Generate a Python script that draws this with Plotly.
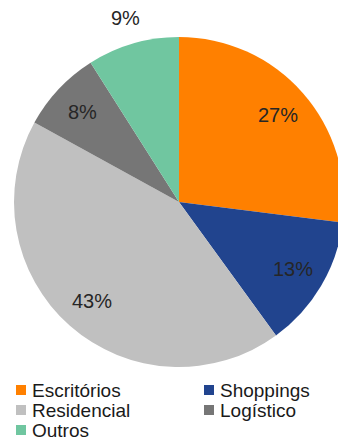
import math
import plotly.graph_objects as go

# Portfolio breakdown by segment (%)
segments = ["Escritórios", "Shoppings", "Residencial", "Logístico", "Outros"]
shares = [27, 13, 43, 8, 9]
colors = ["#FF8000", "#21448E", "#C0C0C0", "#767676", "#70C6A0"]
outside_label = [False, False, False, False, True]

W, H = 346, 442
FONT = "Liberation Sans, Arial, sans-serif"
TEXT = "#262626"

# pie geometry (pixels from top-left)
CX, CY, R = 179, 202, 165

fig = go.Figure(
    go.Pie(
        labels=segments,
        values=shares,
        sort=False,
        direction="clockwise",
        rotation=0,
        marker=dict(colors=colors, line=dict(width=0)),
        textinfo="none",
        hoverinfo="label+percent",
        showlegend=False,
        domain=dict(x=[(CX - R) / W, (CX + R) / W], y=[(H - CY - R) / H, (H - CY + R) / H]),
    )
)

# percentage labels placed along each slice's bisector
total = sum(shares)
start = 0.0
annotations = []
for share, outside in zip(shares, outside_label):
    sweep = 360.0 * share / total
    mid = math.radians(start + sweep / 2)
    start += sweep
    f = 1.16 if outside else 0.8
    px = CX + f * R * math.sin(mid)
    py = CY - f * R * math.cos(mid)
    annotations.append(dict(
        x=px / W, y=(H - py) / H, xref="paper", yref="paper",
        text=f"{share}%", showarrow=False,
        xanchor="center", yanchor="middle",
        font=dict(family=FONT, size=20, color=TEXT),
    ))

# two-column legend below the pie
shapes = []
col_x = [16, 204]
row_y = [390, 410, 430]
for i, (name, col) in enumerate(zip(segments, colors)):
    x0 = col_x[i % 2]
    yc = row_y[i // 2]
    shapes.append(dict(
        type="rect", xref="paper", yref="paper",
        x0=x0 / W, x1=(x0 + 10) / W,
        y0=(H - yc - 5) / H, y1=(H - yc + 5) / H,
        fillcolor=col, line=dict(width=0),
    ))
    annotations.append(dict(
        x=(x0 + 14) / W, y=(H - yc) / H, xref="paper", yref="paper",
        text=name, showarrow=False,
        xanchor="left", yanchor="middle",
        font=dict(family=FONT, size=19, color="#1a1a1a"),
    ))

fig.update_layout(
    width=W,
    height=H,
    margin=dict(l=0, r=0, t=0, b=0, autoexpand=False),
    paper_bgcolor="white",
    plot_bgcolor="white",
    font=dict(family=FONT, color=TEXT),
    annotations=annotations,
    shapes=shapes,
    showlegend=False,
)

fig.write_html("out.html", post_script="document.body.style.overflow='hidden';")
